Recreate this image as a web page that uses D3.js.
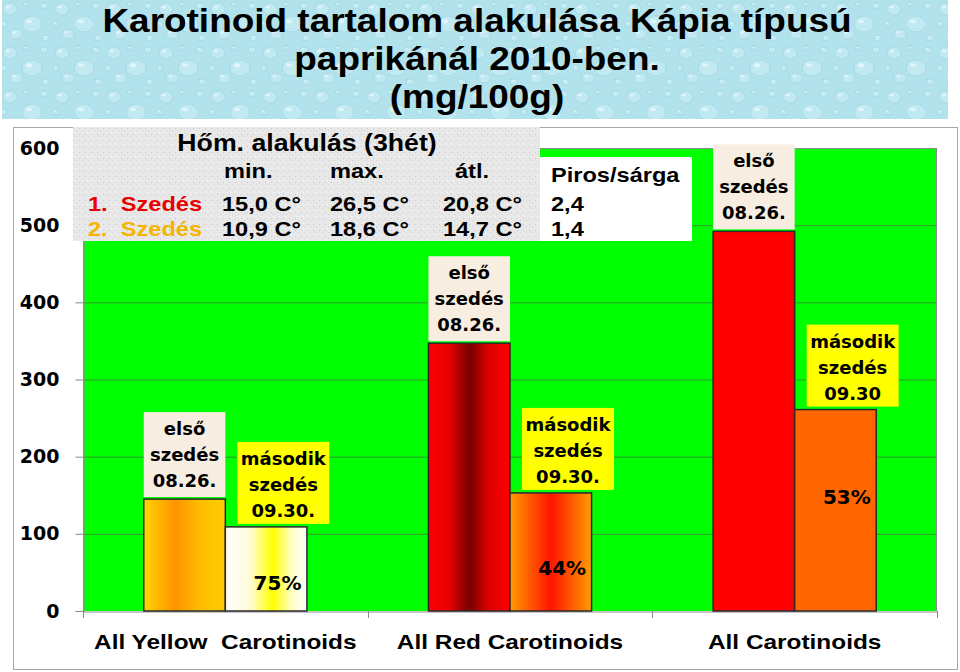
<!DOCTYPE html>
<html><head><meta charset="utf-8">
<script src="https://cdn.jsdelivr.net/npm/d3@7"></script>
<style>body{margin:0;background:#fff} text{white-space:pre}</style>
</head><body><svg id="c" width="960" height="672"></svg>
<script>
// ---------- data ----------
const categories = ["All Yellow  Carotinoids", "All Red Carotinoids", "All Carotinoids"];
const seriesKeys = ["first", "second"];
const firstHarvest = [145, 347, 492];
const secondHarvest = [109, 153, 261];
const ratioLabels = ["75%", "44%", "53%"];
const firstLabels = [["első", "szedés", "08.26."], ["első", "szedés", "08.26."], ["első", "szedés", "08.26."]];
const secondLabels = [["második", "szedés", "09.30."], ["második", "szedés", "09.30."], ["második", "szedés", "09.30"]];
const yTicks = [0, 100, 200, 300, 400, 500, 600];
const titleLines = ["Karotinoid tartalom alakulása Kápia típusú", "paprikánál 2010-ben.", "(mg/100g)"];
const tempTitle = "Hőm. alakulás (3hét)";
const tempHeader = ["min.", "max.", "átl."];
const tempRowNames = ["1.  Szedés", "2.  Szedés"];
const tempRows = [["15,0 C°", "26,5 C°", "20,8 C°"], ["10,9 C°", "18,6 C°", "14,7 C°"]];
const ratioTitle = "Piros/sárga";
const ratioValues = ["2,4", "1,4"];

// ---------- setup ----------
const svg = d3.select("#c");
const ARIAL = "'Liberation Sans', Arial, sans-serif";
const VERD = "'DejaVu Sans', Verdana, sans-serif";
const defs = svg.append("defs");

function grad(id, stops) {
  const g = defs.append("linearGradient").attr("id", id).attr("x1", "0").attr("x2", "1").attr("y1", "0").attr("y2", "0");
  stops.forEach(([o, c]) => g.append("stop").attr("offset", o).attr("stop-color", c));
  return "url(#" + id + ")";
}
const fills = [
  [grad("gy1", [[0, "#ffd600"], [0.38, "#ff9400"], [0.7, "#ffbe00"], [1, "#ffcc00"]]),
   grad("gy2", [[0, "#ffffff"], [0.3, "#fffbd8"], [0.58, "#ffff00"], [0.82, "#ffffc8"], [1, "#ffffff"]])],
  [grad("gr1", [[0, "#ff0000"], [0.25, "#e80000"], [0.5, "#780000"], [0.75, "#e00000"], [1, "#ff0000"]]),
   grad("gr2", [[0, "#ff9c00"], [0.5, "#ff1400"], [1, "#ff9c00"]])],
  ["#ff0000", "#ff6600"]
];

// water-drop pattern (subtle)
const wp = defs.append("pattern").attr("id", "water").attr("patternUnits", "userSpaceOnUse").attr("width", 52).attr("height", 44);
wp.append("rect").attr("width", 52).attr("height", 44).attr("fill", "#b2e2ec");
[[10, 9, 7, 6], [32, 24, 10, 8], [44, 6, 4, 3], [16, 34, 6, 5], [4, 24, 3, 3], [26, 4, 3, 2], [46, 38, 4, 3]].forEach(([cx, cy, rx, ry]) => {
  wp.append("ellipse").attr("cx", cx).attr("cy", cy).attr("rx", rx).attr("ry", ry)
    .attr("fill", "#c8edf4").attr("stroke", "#95cfdc").attr("stroke-width", 0.7).attr("opacity", 0.7);
  wp.append("ellipse").attr("cx", cx - rx * 0.3).attr("cy", cy - ry * 0.35).attr("rx", rx * 0.3).attr("ry", ry * 0.25)
    .attr("fill", "#e6f8fb").attr("opacity", 0.8);
});
// speckle pattern
const sp = defs.append("pattern").attr("id", "speck").attr("patternUnits", "userSpaceOnUse").attr("width", 6).attr("height", 6);
sp.append("rect").attr("width", 6).attr("height", 6).attr("fill", "#e8e8e8");
sp.append("rect").attr("x", 1).attr("y", 2).attr("width", 1).attr("height", 1).attr("fill", "#c8c8c8");
sp.append("rect").attr("x", 4).attr("y", 4).attr("width", 1).attr("height", 1).attr("fill", "#d2d2d2");
sp.append("rect").attr("x", 3).attr("y", 0).attr("width", 1).attr("height", 1).attr("fill", "#f6f6f6");

// stretched text helper
function stext(parent, x, y, str, o) {
  o = o || {};
  return parent.append("text")
    .attr("transform", `translate(${x},${y}) scale(${o.sx || 1.18},1)`)
    .attr("text-anchor", o.anchor || "start")
    .attr("font-family", o.family || ARIAL)
    .attr("font-weight", o.weight || "bold")
    .attr("font-size", o.size || 20)
    .attr("fill", o.fill || "#000")
    .attr("xml:space", "preserve")
    .text(str);
}

// ---------- title ----------
svg.append("rect").attr("x", 2).attr("y", 0).attr("width", 946).attr("height", 119).attr("fill", "url(#water)");
titleLines.forEach((t, i) => stext(svg, 477, 32 + i * 38, t, { anchor: "middle", size: 33, sx: 1.12 }));

// chart frame
svg.append("rect").attr("x", 13.5).attr("y", 127.5).attr("width", 944).attr("height", 542)
  .attr("fill", "#fff").attr("stroke", "#a6a6a6").attr("stroke-width", 1);

// ---------- scales ----------
const x = d3.scaleBand().domain(categories).range([83, 937]).padding(0);
const xs = d3.scaleBand().domain(seriesKeys).range([0, x.bandwidth()]).paddingInner(0).paddingOuter(0.745);
const y = d3.scaleLinear().domain([0, 600]).range([611, 148]);

// plot area
svg.append("rect").attr("x", 83).attr("y", y(600)).attr("width", 937 - 83).attr("height", y(0) - y(600)).attr("fill", "#00ff00");
svg.append("g").selectAll("line").data(yTicks.filter(d => d > 0 && d < 600)).join("line")
  .attr("x1", 83).attr("x2", 937).attr("y1", d => y(d) + 0.5).attr("y2", d => y(d) + 0.5)
  .attr("stroke", "#2f9a2f").attr("stroke-width", 1);
svg.append("path").attr("d", `M83,${y(600) + 0.5}H936.5V${y(0)}`).attr("fill", "none").attr("stroke", "#8a8a8a");

// y axis
const yAxis = svg.append("g").attr("transform", "translate(83.5,0)")
  .call(d3.axisLeft(y).tickValues(yTicks).tickSize(8).tickPadding(16));
yAxis.select(".domain").attr("stroke", "#8a8a8a");
yAxis.selectAll(".tick line").attr("stroke", "#8a8a8a");
yAxis.selectAll(".tick text").attr("font-family", VERD).attr("font-weight", "bold").attr("font-size", 19).attr("fill", "#000");

// x axis
const xAxis = svg.append("g").attr("transform", `translate(0,${y(0) + 0.5})`)
  .call(d3.axisBottom(x).tickSize(0).tickPadding(23));
xAxis.select(".domain").attr("stroke", "#8a8a8a");
xAxis.selectAll(".tick text").attr("font-family", ARIAL).attr("font-weight", "bold").attr("font-size", 20)
  .attr("fill", "#000").attr("transform", "scale(1.22,1)").attr("xml:space", "preserve");
svg.append("g").selectAll("line").data([...categories.map(c => x(c)), x(categories[2]) + x.bandwidth()]).join("line")
  .attr("x1", d => Math.round(d) + 0.5).attr("x2", d => Math.round(d) + 0.5)
  .attr("y1", y(0)).attr("y2", y(0) + 7).attr("stroke", "#8a8a8a");

// ---------- bars ----------
const rows = categories.map((c, i) => ({ c, i, vals: [firstHarvest[i], secondHarvest[i]] }));
const groups = svg.append("g").selectAll("g").data(rows).join("g").attr("transform", d => `translate(${x(d.c)},0)`);
groups.selectAll("rect").data(d => seriesKeys.map((k, j) => ({ k, j, v: d.vals[j], i: d.i }))).join("rect")
  .attr("x", d => xs(d.k)).attr("width", xs.bandwidth())
  .attr("y", d => y(d.v)).attr("height", d => y(0) - y(d.v))
  .attr("fill", d => fills[d.i][d.j]).attr("stroke", "#2a2a2a").attr("stroke-width", 1.5);

// percent labels inside second bars (vertical anchor in data units)
const pctAnchor = [36, 56, 148];
groups.append("text")
  .attr("x", xs("second") + xs.bandwidth() * 0.64).attr("y", d => y(pctAnchor[d.i]) + 7)
  .attr("text-anchor", "middle").attr("font-family", VERD).attr("font-weight", "bold").attr("font-size", 20)
  .text(d => ratioLabels[d.i]);

// label boxes
function labelBox(g, bx, by, w, h, fill, lines) {
  g.append("rect").attr("x", bx).attr("y", by).attr("width", w).attr("height", h).attr("fill", fill);
  lines.forEach((t, k) => g.append("text").attr("x", bx + w / 2).attr("y", by + 23 + k * 26)
    .attr("text-anchor", "middle").attr("font-family", VERD).attr("font-weight", "bold").attr("font-size", 18)
    .attr("fill", "#000").text(t));
}
groups.each(function (d) {
  const g = d3.select(this);
  const x1 = xs("first"), x2 = xs("second"), bw = xs.bandwidth();
  labelBox(g, x1, y(d.vals[0]) - 87, bw, 85, "#f7ede1", firstLabels[d.i]);
  labelBox(g, x2 + 12, y(d.vals[1]) - 85, 92, 82, "#ffff00", secondLabels[d.i]);
});

// ---------- legend boxes ----------
svg.append("rect").attr("x", 73).attr("y", 127).attr("width", 467).attr("height", 114).attr("fill", "url(#speck)");
stext(svg, 307, 151, tempTitle, { anchor: "middle", size: 23, sx: 1.16 });
const colX = [222, 330, 443];
tempHeader.forEach((t, k) => stext(svg, [224, 330, 455][k], 178, t, { size: 20 }));
tempRowNames.forEach((n, r) => {
  stext(svg, 88, 211 + r * 25, n, { size: 20, fill: r === 0 ? "#e60000" : "#f5b400" });
  tempRows[r].forEach((t, k) => stext(svg, colX[k], 211 + r * 25, t, { size: 20 }));
});
svg.append("rect").attr("x", 540).attr("y", 157).attr("width", 152).attr("height", 84).attr("fill", "#fff");
stext(svg, 551, 182, ratioTitle, { size: 20 });
ratioValues.forEach((t, k) => stext(svg, 551, 211 + k * 25, t, { size: 20 }));
</script></body></html>
